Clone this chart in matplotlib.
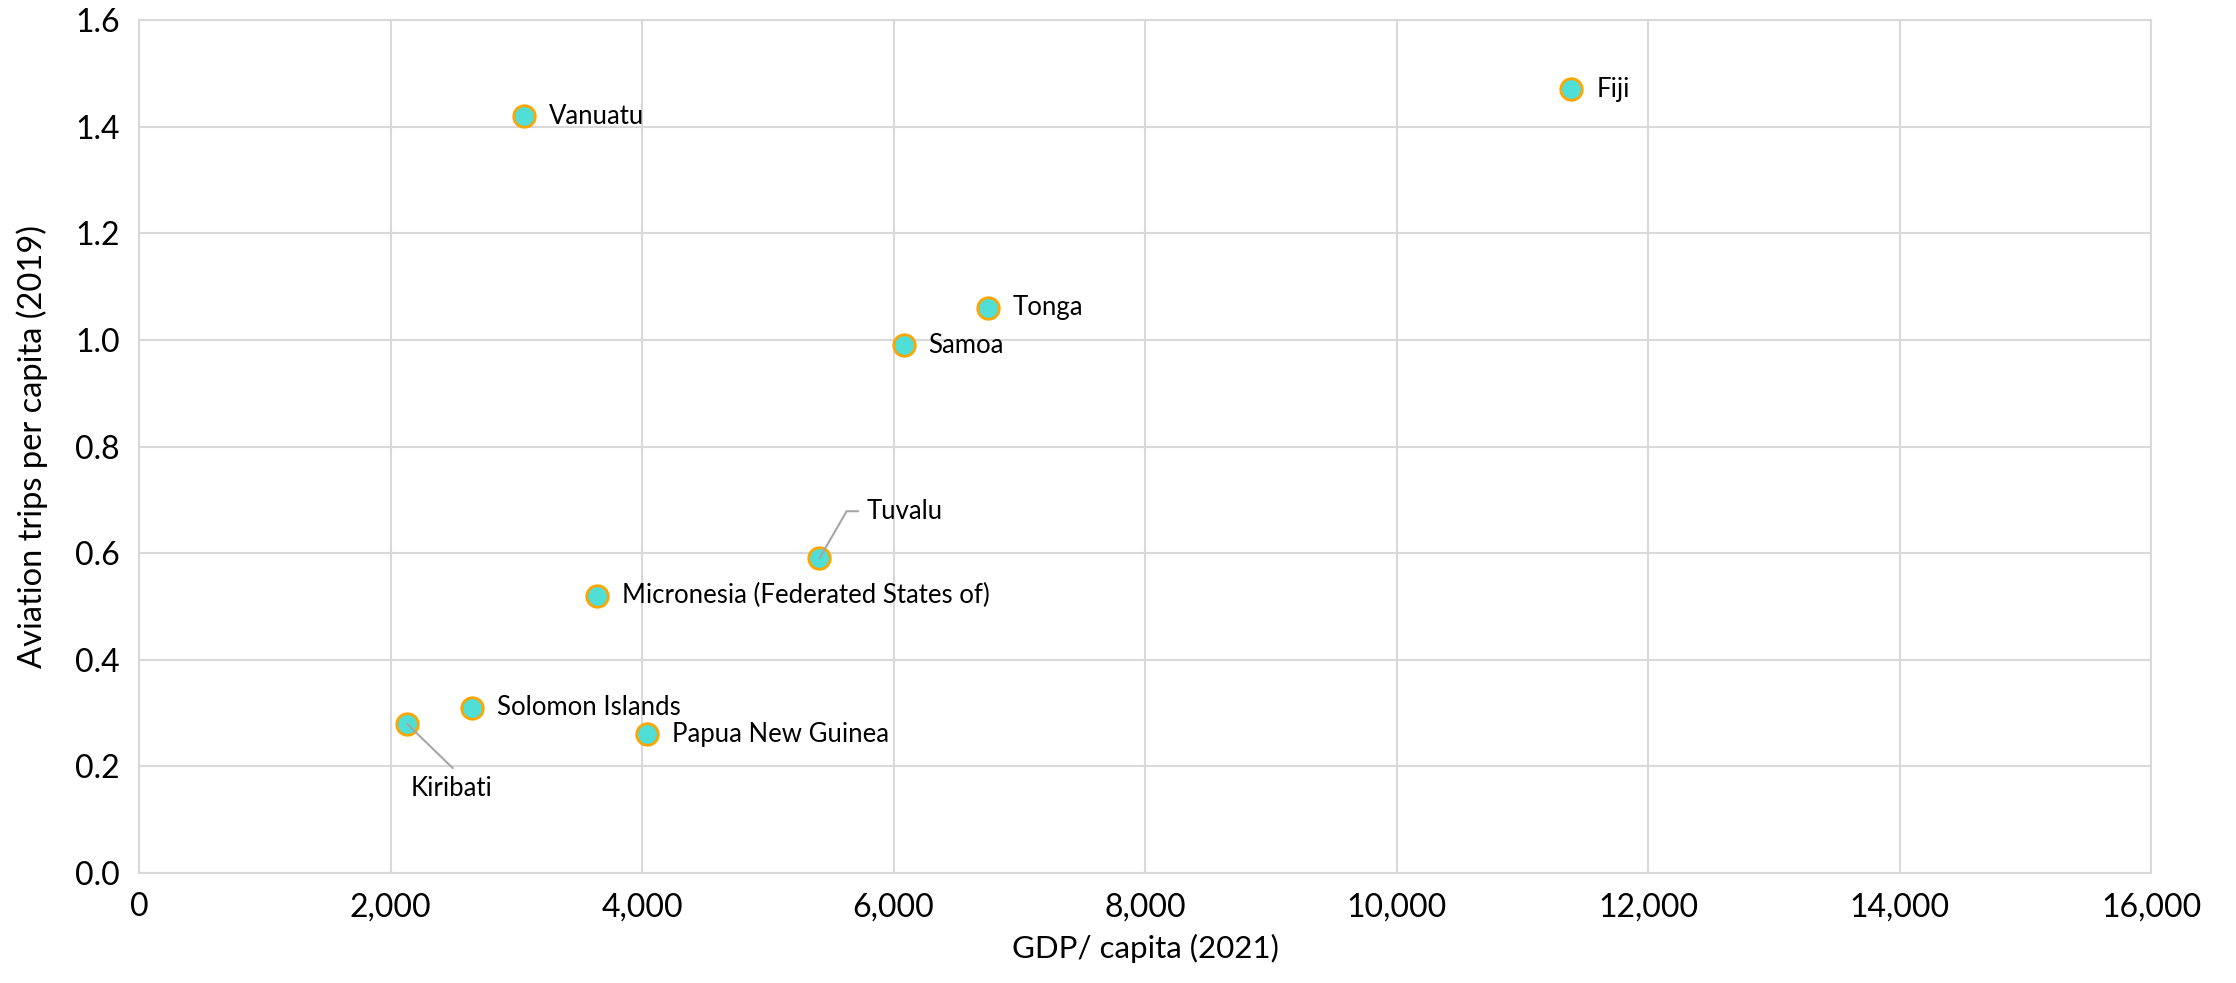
"""
    Aviation trips vs GDP per capita, Pacific island states
"""
import matplotlib.pyplot as plt
from matplotlib.ticker import FuncFormatter, MultipleLocator

plt.rcParams['font.family'] = ['Lato', 'DejaVu Sans']

### data
countries = ["Vanuatu", "Fiji", "Tonga", "Samoa", "Tuvalu",
             "Micronesia (Federated States of)", "Solomon Islands",
             "Kiribati", "Papua New Guinea"]
gdp_per_capita = [3060, 11390, 6750, 6080, 5410, 3640, 2650, 2130, 4040]
trips_per_capita = [1.42, 1.47, 1.06, 0.99, 0.59, 0.52, 0.31, 0.28, 0.26]

GRID = "#d9d9d9"
LEADER = "#a6a6a6"
FS = 18.5

fig = plt.figure(figsize=(22.36, 9.83), dpi=100)
ax = fig.add_axes([0.0622, 0.112, 0.8998, 0.8675])

ax.scatter(gdp_per_capita, trips_per_capita, s=240, color="#4fdfd7",
           edgecolor="#ffa500", linewidth=2, zorder=3)

for name, x, y in zip(countries, gdp_per_capita, trips_per_capita):
    if name == "Tuvalu":
        # elbow leader line up and to the right
        ax.annotate("", (x, y), xytext=(28, 34), textcoords="offset points",
                    arrowprops=dict(arrowstyle="-", color=LEADER, lw=1.5,
                                    connectionstyle="angle,angleA=0,angleB=60,rad=0",
                                    shrinkA=0, shrinkB=0), zorder=4)
        ax.annotate(name, (x, y), xytext=(34, 34), textcoords="offset points",
                    fontsize=FS, va="center", ha="left")
    elif name == "Kiribati":
        ax.annotate("", (x, y), xytext=(33, -32), textcoords="offset points",
                    arrowprops=dict(arrowstyle="-", color=LEADER, lw=1.5,
                                    shrinkA=0, shrinkB=0), zorder=4)
        ax.annotate(name, (x, y), xytext=(3, -47), textcoords="offset points",
                    fontsize=FS, va="center", ha="left")
    else:
        ax.annotate(name, (x, y), xytext=(18, 0), textcoords="offset points",
                    fontsize=FS, va="center", ha="left")

ax.set_xlim(0, 16000)
ax.set_ylim(0, 1.6)
ax.xaxis.set_major_locator(MultipleLocator(2000))
ax.yaxis.set_major_locator(MultipleLocator(0.2))
ax.xaxis.set_major_formatter(FuncFormatter(lambda v, p: f"{v:,.0f}"))
ax.yaxis.set_major_formatter(FuncFormatter(lambda v, p: f"{v:.1f}"))
ax.tick_params(length=0, labelsize=23, pad=14)
ax.grid(True, color=GRID, lw=1.5)
ax.set_axisbelow(True)
for s in ax.spines.values():
    s.set_color(GRID)
    s.set_linewidth(1.5)

ax.set_xlabel("GDP/ capita (2021)", fontsize=22.5, labelpad=8)
ax.set_ylabel("Aviation trips per capita (2019)", fontsize=23.5, labelpad=19)

fig.savefig("out.png", dpi=100)
